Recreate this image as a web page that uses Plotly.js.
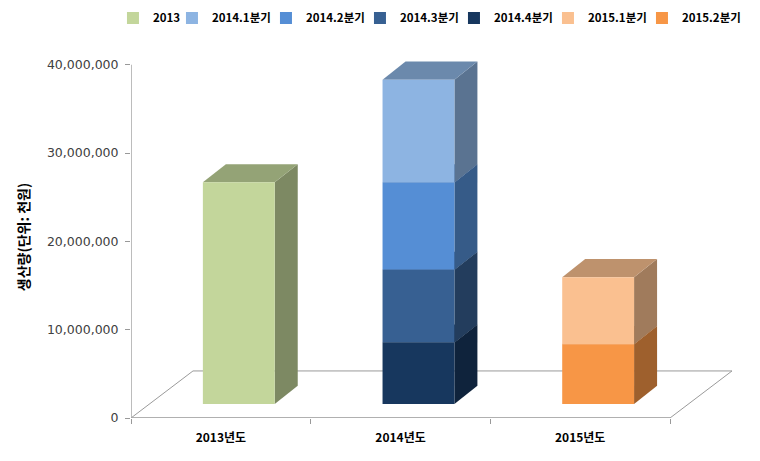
<!DOCTYPE html>
<html><head><meta charset="utf-8">
<script src="https://cdn.plot.ly/plotly-3.0.1.min.js"></script>
<style>html,body{margin:0;padding:0;background:#fff;} #chart{width:760px;height:461px;}</style>
</head><body><div id="chart"></div>
<script>
// ---- data ----
const categories = ['2013년도', '2014년도', '2015년도'];
const seriesNames = ['2013', '2014.1분기', '2014.2분기', '2014.3분기', '2014.4분기', '2015.1분기', '2015.2분기'];
const seriesCategory = [0, 1, 1, 1, 1, 2, 2];
const seriesValues = [25100000, 11640000, 9890000, 8240000, 6950000, 7590000, 6760000];
const seriesColors = ['#C3D69B', '#8DB4E2', '#558ED5', '#376092', '#17375E', '#FAC090', '#F79646'];
const yTickVals = [0, 10000000, 20000000, 30000000, 40000000];
const yTitle = '생산량(단위: 천원)';

// ---- 3D geometry (data units) ----
const FLOOR_DX = 0.345, FLOOR_DY = 5330000;
const BAR_BASE = 1590000;
const BAR_W = 0.4, BAR_OFF = -0.1;
const BAR_DX = 0.128, BAR_DY = 2060000;

function shade(hex, f) {
  const n = parseInt(hex.slice(1), 16);
  const r = Math.round(((n >> 16) & 255) * f), g = Math.round(((n >> 8) & 255) * f), b = Math.round((n & 255) * f);
  return 'rgb(' + r + ',' + g + ',' + b + ')';
}

const n = seriesNames.length;
const bases = new Array(n);
const cum = categories.map(() => BAR_BASE);
for (let i = n - 1; i >= 0; i--) {
  const c = seriesCategory[i];
  bases[i] = cum[c];
  cum[c] += seriesValues[i];
}

const traces = seriesNames.map((name, i) => ({
  type: 'bar',
  name: name,
  x: [seriesCategory[i]],
  y: [seriesValues[i]],
  base: [bases[i]],
  width: BAR_W,
  offset: BAR_OFF,
  marker: {color: seriesColors[i], line: {width: 0}},
  legendwidth: i === 0 ? 14 : (i === n - 1 ? 0 : 49),
  hoverinfo: 'skip'
}));

const shapes = [];
// floor
shapes.push({
  type: 'path', xref: 'x', yref: 'y', layer: 'below',
  path: `M -0.5,0 L ${categories.length - 0.5},0 L ${categories.length - 0.5 + FLOOR_DX},${FLOOR_DY} L ${-0.5 + FLOOR_DX},${FLOOR_DY} Z`,
  fillcolor: '#ffffff', line: {color: '#9a9a9a', width: 1}
});
shapes.push({
  type: 'line', xref: 'x', yref: 'y', layer: 'below',
  x0: -0.5, x1: categories.length - 0.5, y0: 0, y1: 0,
  line: {color: '#a6a6a6', width: 1.5}
});
// y axis line
shapes.push({
  type: 'line', xref: 'x', yref: 'y', layer: 'below',
  x0: -0.5, x1: -0.5, y0: 0, y1: yTickVals[yTickVals.length - 1],
  line: {color: '#a6a6a6', width: 1.5}
});
// bar sides & tops, bottom-up
for (let i = n - 1; i >= 0; i--) {
  const c = seriesCategory[i];
  const x0 = c + BAR_OFF, x1 = x0 + BAR_W;
  const y0 = bases[i], y1 = bases[i] + seriesValues[i];
  shapes.push({
    type: 'path', xref: 'x', yref: 'y', layer: 'below',
    path: `M ${x1},${y0} L ${x1 + BAR_DX},${y0 + BAR_DY} L ${x1 + BAR_DX},${y1 + BAR_DY} L ${x1},${y1} Z`,
    fillcolor: shade(seriesColors[i], 0.64), line: {width: 0}
  });
  shapes.push({
    type: 'path', xref: 'x', yref: 'y', layer: 'below',
    path: `M ${x0},${y1} L ${x1},${y1} L ${x1 + BAR_DX},${y1 + BAR_DY} L ${x0 + BAR_DX},${y1 + BAR_DY} Z`,
    fillcolor: shade(seriesColors[i], 0.76), line: {width: 0}
  });
}

const layout = {
  width: 760, height: 461,
  margin: {l: 131, r: 28, t: 56, b: 43, autoexpand: false},
  paper_bgcolor: '#ffffff', plot_bgcolor: '#ffffff',
  barmode: 'overlay',
  showlegend: true,
  legend: {
    orientation: 'h', x: -0.03, xanchor: 'left', y: 1.105, yanchor: 'middle',
    traceorder: 'normal',
    font: {family: 'Noto Sans CJK KR', size: 11.5, color: '#000', weight: 'bold'},
    bgcolor: 'rgba(0,0,0,0)'
  },
  xaxis: {
    range: [-0.5, categories.length - 0.5 + FLOOR_DX],
    tickmode: 'array', tickvals: categories.map((c, i) => i), ticktext: categories,
    ticks: '', showline: false, showgrid: false, zeroline: false,
    tickfont: {family: 'Noto Sans CJK KR', size: 12, color: '#000', weight: 'bold'},
    ticklabelstandoff: 11,
    minor: {tickmode: 'array', tickvals: [-0.5, 0.5, 1.5, 2.5], ticks: 'outside', ticklen: 5, tickcolor: '#999', tickwidth: 1, showgrid: false}
  },
  yaxis: {
    range: [0, 41000000],
    tickmode: 'array', tickvals: yTickVals,
    tickformat: ',d',
    ticks: 'outside', ticklen: 5, tickcolor: '#999',
    ticklabelstandoff: 4,
    showline: false, showgrid: false, zeroline: false,
    tickfont: {family: 'DejaVu Sans', size: 12.5, color: '#404040'},
    title: {text: yTitle, font: {family: 'Noto Sans CJK KR', size: 14, color: '#000', weight: 'bold'}, standoff: 14}
  },
  shapes: shapes
};

Plotly.newPlot('chart', traces, layout, {staticPlot: true, displayModeBar: false});
</script>
</body></html>
